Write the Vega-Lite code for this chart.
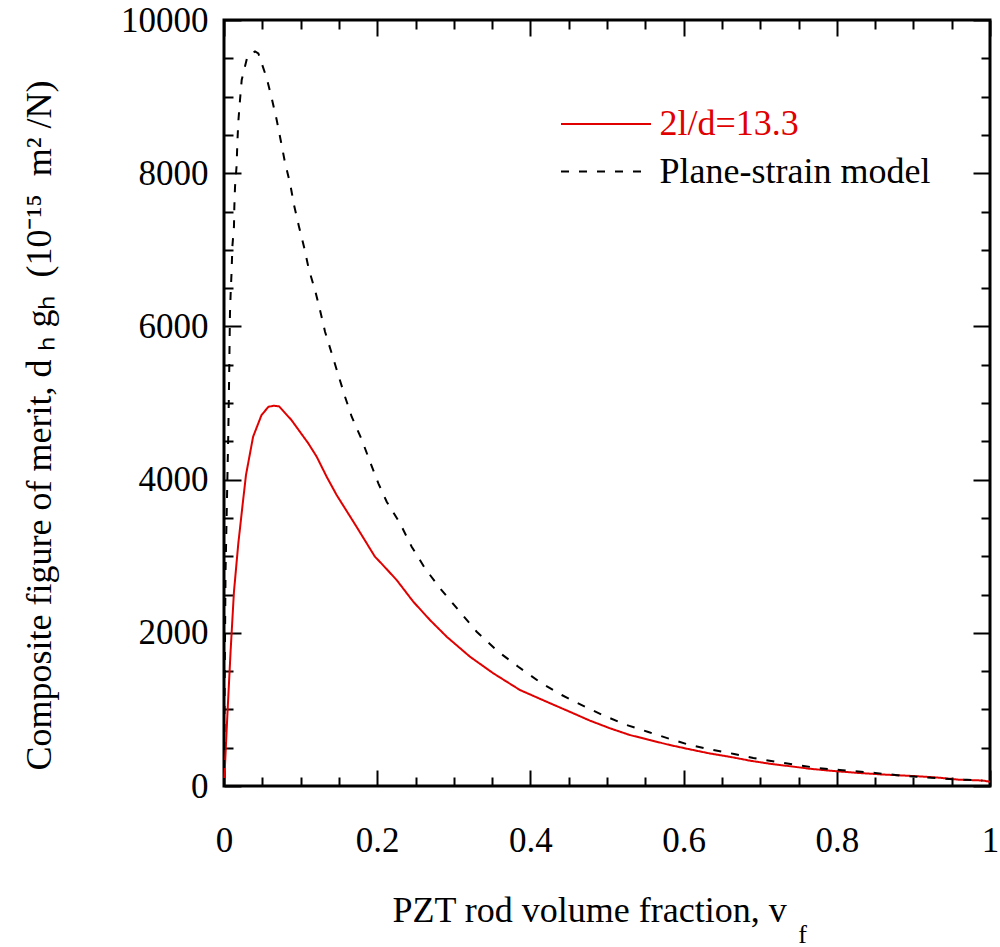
{
  "$schema": "https://vega.github.io/schema/vega-lite/v6.json",
  "width": 766,
  "height": 766,
  "autosize": {"type": "none"},
  "padding": {"left": 224, "top": 20, "right": 10, "bottom": 161},
  "config": {
    "font": "Liberation Serif",
    "view": {"stroke": "black", "strokeWidth": 3},
    "axis": {
      "grid": false,
      "domain": false,
      "ticks": true,
      "tickColor": "black",
      "tickWidth": 2,
      "tickOpacity": 1,
      "zindex": 2,
      "labelColor": "black",
      "titleColor": "black",
      "labelFontSize": 35,
      "titleFontSize": 36,
      "titleFontWeight": "normal",
      "labelFont": "Liberation Serif",
      "titleFont": "Liberation Serif",
      "labelFlush": false
    }
  },
  "data": {
    "values": [
      {"series": "2l/d=13.3", "vf": 0, "fom": 0},
      {"series": "2l/d=13.3", "vf": 0.0043, "fom": 905},
      {"series": "2l/d=13.3", "vf": 0.0087, "fom": 1775},
      {"series": "2l/d=13.3", "vf": 0.013, "fom": 2537},
      {"series": "2l/d=13.3", "vf": 0.0187, "fom": 3168},
      {"series": "2l/d=13.3", "vf": 0.024, "fom": 3646},
      {"series": "2l/d=13.3", "vf": 0.0287, "fom": 4060},
      {"series": "2l/d=13.3", "vf": 0.038, "fom": 4560},
      {"series": "2l/d=13.3", "vf": 0.049, "fom": 4843},
      {"series": "2l/d=13.3", "vf": 0.058, "fom": 4950},
      {"series": "2l/d=13.3", "vf": 0.065, "fom": 4965},
      {"series": "2l/d=13.3", "vf": 0.072, "fom": 4955},
      {"series": "2l/d=13.3", "vf": 0.088, "fom": 4778},
      {"series": "2l/d=13.3", "vf": 0.11, "fom": 4474},
      {"series": "2l/d=13.3", "vf": 0.121, "fom": 4299},
      {"series": "2l/d=13.3", "vf": 0.134, "fom": 4038},
      {"series": "2l/d=13.3", "vf": 0.147, "fom": 3799},
      {"series": "2l/d=13.3", "vf": 0.173, "fom": 3385},
      {"series": "2l/d=13.3", "vf": 0.197, "fom": 2994},
      {"series": "2l/d=13.3", "vf": 0.206, "fom": 2900},
      {"series": "2l/d=13.3", "vf": 0.2254, "fom": 2689},
      {"series": "2l/d=13.3", "vf": 0.2471, "fom": 2406},
      {"series": "2l/d=13.3", "vf": 0.2689, "fom": 2167},
      {"series": "2l/d=13.3", "vf": 0.2907, "fom": 1949},
      {"series": "2l/d=13.3", "vf": 0.3211, "fom": 1688},
      {"series": "2l/d=13.3", "vf": 0.3516, "fom": 1471},
      {"series": "2l/d=13.3", "vf": 0.3864, "fom": 1253},
      {"series": "2l/d=13.3", "vf": 0.4212, "fom": 1100},
      {"series": "2l/d=13.3", "vf": 0.456, "fom": 949},
      {"series": "2l/d=13.3", "vf": 0.4778, "fom": 853},
      {"series": "2l/d=13.3", "vf": 0.504, "fom": 753},
      {"series": "2l/d=13.3", "vf": 0.53, "fom": 665},
      {"series": "2l/d=13.3", "vf": 0.556, "fom": 600},
      {"series": "2l/d=13.3", "vf": 0.582, "fom": 535},
      {"series": "2l/d=13.3", "vf": 0.608, "fom": 479},
      {"series": "2l/d=13.3", "vf": 0.634, "fom": 425},
      {"series": "2l/d=13.3", "vf": 0.661, "fom": 380},
      {"series": "2l/d=13.3", "vf": 0.687, "fom": 330},
      {"series": "2l/d=13.3", "vf": 0.713, "fom": 290},
      {"series": "2l/d=13.3", "vf": 0.739, "fom": 258},
      {"series": "2l/d=13.3", "vf": 0.765, "fom": 225},
      {"series": "2l/d=13.3", "vf": 0.791, "fom": 200},
      {"series": "2l/d=13.3", "vf": 0.826, "fom": 172},
      {"series": "2l/d=13.3", "vf": 0.86, "fom": 150},
      {"series": "2l/d=13.3", "vf": 0.9, "fom": 130},
      {"series": "2l/d=13.3", "vf": 0.93, "fom": 112},
      {"series": "2l/d=13.3", "vf": 0.96, "fom": 82},
      {"series": "2l/d=13.3", "vf": 0.99, "fom": 72},
      {"series": "2l/d=13.3", "vf": 1.0, "fom": 55},
      {"series": "Plane-strain model", "vf": 0, "fom": 0},
      {"series": "Plane-strain model", "vf": 0.001, "fom": 1500},
      {"series": "Plane-strain model", "vf": 0.002, "fom": 2800},
      {"series": "Plane-strain model", "vf": 0.004, "fom": 3800},
      {"series": "Plane-strain model", "vf": 0.0056, "fom": 4600},
      {"series": "Plane-strain model", "vf": 0.0068, "fom": 5400},
      {"series": "Plane-strain model", "vf": 0.0078, "fom": 6175},
      {"series": "Plane-strain model", "vf": 0.0087, "fom": 6432},
      {"series": "Plane-strain model", "vf": 0.01, "fom": 6736},
      {"series": "Plane-strain model", "vf": 0.0109, "fom": 7041},
      {"series": "Plane-strain model", "vf": 0.013, "fom": 7302},
      {"series": "Plane-strain model", "vf": 0.0135, "fom": 7563},
      {"series": "Plane-strain model", "vf": 0.0144, "fom": 7824},
      {"series": "Plane-strain model", "vf": 0.0165, "fom": 8107},
      {"series": "Plane-strain model", "vf": 0.0174, "fom": 8390},
      {"series": "Plane-strain model", "vf": 0.0187, "fom": 8673},
      {"series": "Plane-strain model", "vf": 0.0209, "fom": 8956},
      {"series": "Plane-strain model", "vf": 0.0231, "fom": 9217},
      {"series": "Plane-strain model", "vf": 0.0305, "fom": 9521},
      {"series": "Plane-strain model", "vf": 0.0405, "fom": 9590},
      {"series": "Plane-strain model", "vf": 0.0448, "fom": 9565},
      {"series": "Plane-strain model", "vf": 0.0557, "fom": 9243},
      {"series": "Plane-strain model", "vf": 0.0622, "fom": 8982},
      {"series": "Plane-strain model", "vf": 0.0688, "fom": 8695},
      {"series": "Plane-strain model", "vf": 0.0744, "fom": 8411},
      {"series": "Plane-strain model", "vf": 0.0796, "fom": 8140},
      {"series": "Plane-strain model", "vf": 0.0862, "fom": 7870},
      {"series": "Plane-strain model", "vf": 0.0914, "fom": 7585},
      {"series": "Plane-strain model", "vf": 0.0979, "fom": 7302},
      {"series": "Plane-strain model", "vf": 0.1044, "fom": 7041},
      {"series": "Plane-strain model", "vf": 0.111, "fom": 6736},
      {"series": "Plane-strain model", "vf": 0.1188, "fom": 6475},
      {"series": "Plane-strain model", "vf": 0.1253, "fom": 6214},
      {"series": "Plane-strain model", "vf": 0.1319, "fom": 5931},
      {"series": "Plane-strain model", "vf": 0.1406, "fom": 5649},
      {"series": "Plane-strain model", "vf": 0.1492, "fom": 5366},
      {"series": "Plane-strain model", "vf": 0.158, "fom": 5082},
      {"series": "Plane-strain model", "vf": 0.1667, "fom": 4821},
      {"series": "Plane-strain model", "vf": 0.18, "fom": 4517},
      {"series": "Plane-strain model", "vf": 0.1906, "fom": 4234},
      {"series": "Plane-strain model", "vf": 0.2015, "fom": 3951},
      {"series": "Plane-strain model", "vf": 0.2124, "fom": 3712},
      {"series": "Plane-strain model", "vf": 0.2298, "fom": 3429},
      {"series": "Plane-strain model", "vf": 0.245, "fom": 3124},
      {"series": "Plane-strain model", "vf": 0.2624, "fom": 2842},
      {"series": "Plane-strain model", "vf": 0.282, "fom": 2581},
      {"series": "Plane-strain model", "vf": 0.3059, "fom": 2298},
      {"series": "Plane-strain model", "vf": 0.3299, "fom": 2014},
      {"series": "Plane-strain model", "vf": 0.3581, "fom": 1753},
      {"series": "Plane-strain model", "vf": 0.3842, "fom": 1557},
      {"series": "Plane-strain model", "vf": 0.4147, "fom": 1340},
      {"series": "Plane-strain model", "vf": 0.4409, "fom": 1188},
      {"series": "Plane-strain model", "vf": 0.4713, "fom": 1035},
      {"series": "Plane-strain model", "vf": 0.497, "fom": 914},
      {"series": "Plane-strain model", "vf": 0.5257, "fom": 796},
      {"series": "Plane-strain model", "vf": 0.554, "fom": 705},
      {"series": "Plane-strain model", "vf": 0.581, "fom": 618},
      {"series": "Plane-strain model", "vf": 0.608, "fom": 535},
      {"series": "Plane-strain model", "vf": 0.634, "fom": 479},
      {"series": "Plane-strain model", "vf": 0.666, "fom": 418},
      {"series": "Plane-strain model", "vf": 0.691, "fom": 366},
      {"series": "Plane-strain model", "vf": 0.72, "fom": 317},
      {"series": "Plane-strain model", "vf": 0.748, "fom": 274},
      {"series": "Plane-strain model", "vf": 0.775, "fom": 235},
      {"series": "Plane-strain model", "vf": 0.804, "fom": 209},
      {"series": "Plane-strain model", "vf": 0.85, "fom": 170},
      {"series": "Plane-strain model", "vf": 0.89, "fom": 130},
      {"series": "Plane-strain model", "vf": 0.94, "fom": 95},
      {"series": "Plane-strain model", "vf": 0.97, "fom": 80},
      {"series": "Plane-strain model", "vf": 0.99, "fom": 70}
    ]
  },
  "layer": [
    {
      "mark": {"type": "line", "strokeWidth": 2},
      "encoding": {
        "x": {
          "field": "vf", "type": "quantitative",
          "scale": {"domain": [0, 1], "nice": false, "zero": false},
          "axis": {
            "orient": "bottom",
            "offset": -16,
            "values": [0, 0.2, 0.4, 0.6, 0.8, 1],
            "format": "~g",
            "ticks": true,
            "tickColor": "black",
            "tickWidth": 2,
            "tickSize": 16,
            "labelPadding": 37,
            "title": "PZT rod volume fraction, v",
            "titleAlign": "center",
            "titleX": 365,
            "titleY": 151,
            "titleBaseline": "alphabetic"
          }
        },
        "y": {
          "field": "fom", "type": "quantitative",
          "scale": {"domain": [0, 10000], "nice": false, "zero": false},
          "axis": {
            "orient": "left",
            "offset": -17,
            "values": [0, 2000, 4000, 6000, 8000, 10000],
            "format": "d",
            "ticks": true,
            "tickColor": "black",
            "tickWidth": 2,
            "tickSize": 17,
            "labelPadding": 16,
            "title": "Composite figure of merit, d\u00a0ₕ\u00a0gₕ\u00a0\u00a0(10⁻¹⁵\u00a0\u00a0m²\u00a0/N)",
            "titleAngle": -90,
            "titleAlign": "left",
            "titleX": -191,
            "titleY": 750,
            "titleBaseline": "alphabetic"
          }
        },
        "color": {
          "field": "series", "type": "nominal",
          "scale": {"domain": ["2l/d=13.3", "Plane-strain model"], "range": ["#e00000", "black"]},
          "legend": {
            "orient": "none", "legendX": 336, "legendY": 84.5, "title": null,
            "symbolType": "M-2.432,0H2.432", "symbolSize": 1369, "symbolStrokeWidth": 2, "symbolOffset": 26.5,
            "labelFontSize": 36, "labelFont": "Liberation Serif", "labelOffset": 34, "labelLimit": 400,
            "rowPadding": 9.5, "padding": 0,
            "encode": {"labels": {"update": {"fill": {"signal": "datum.value === '2l/d=13.3' ? '#e00000' : 'black'"}}}}
          }
        },
        "strokeDash": {
          "field": "series", "type": "nominal",
          "scale": {"domain": ["2l/d=13.3", "Plane-strain model"], "range": [[1, 0], [8, 10]]},
          "legend": {
            "orient": "none", "legendX": 336, "legendY": 84.5, "title": null,
            "symbolType": "M-2.432,0H2.432", "symbolSize": 1369, "symbolStrokeWidth": 2, "symbolOffset": 26.5,
            "labelFontSize": 36, "labelFont": "Liberation Serif", "labelOffset": 34, "labelLimit": 400,
            "rowPadding": 9.5, "padding": 0,
            "encode": {"labels": {"update": {"fill": {"signal": "datum.value === '2l/d=13.3' ? '#e00000' : 'black'"}}}}
          }
        }
      }
    },
    {
      "mark": {"type": "line", "opacity": 0},
      "encoding": {
        "x": {
          "field": "vf", "type": "quantitative",
          "scale": {"domain": [0, 1], "nice": false, "zero": false},
          "axis": {
            "orient": "bottom", "offset": -9,
            "values": [0.05, 0.1, 0.15, 0.25, 0.3, 0.35, 0.45, 0.5, 0.55, 0.65, 0.7, 0.75, 0.85, 0.9, 0.95],
            "ticks": true, "tickColor": "black", "tickWidth": 2, "tickSize": 9, "labels": false,
            "title": "f", "titleFontSize": 26, "titleAlign": "center", "titleX": 578, "titleY": 165, "titleBaseline": "alphabetic"
          }
        },
        "y": {
          "field": "fom", "type": "quantitative",
          "scale": {"domain": [0, 10000], "nice": false, "zero": false},
          "axis": {"orient": "left", "offset": -9, "values": [500, 1000, 1500, 2500, 3000, 3500, 4500, 5000, 5500, 6500, 7000, 7500, 8500, 9000, 9500], "ticks": true, "tickColor": "black", "tickWidth": 2, "tickSize": 9, "labels": false, "title": null}
        },
        "detail": {"field": "series"}
      }
    },
    {
      "mark": {"type": "line", "opacity": 0},
      "encoding": {
        "x": {
          "field": "vf", "type": "quantitative",
          "scale": {"domain": [0, 1], "nice": false, "zero": false},
          "axis": {"orient": "top", "offset": -16, "values": [0, 0.2, 0.4, 0.6, 0.8, 1], "ticks": true, "tickColor": "black", "tickWidth": 2, "tickSize": 16, "labels": false, "title": null}
        },
        "y": {
          "field": "fom", "type": "quantitative",
          "scale": {"domain": [0, 10000], "nice": false, "zero": false},
          "axis": {"orient": "right", "offset": -17, "values": [0, 2000, 4000, 6000, 8000, 10000], "ticks": true, "tickColor": "black", "tickWidth": 2, "tickSize": 17, "labels": false, "title": null}
        },
        "detail": {"field": "series"}
      }
    },
    {
      "mark": {"type": "line", "opacity": 0},
      "encoding": {
        "x": {
          "field": "vf", "type": "quantitative",
          "scale": {"domain": [0, 1], "nice": false, "zero": false},
          "axis": {"orient": "top", "offset": -9, "values": [0.05, 0.1, 0.15, 0.25, 0.3, 0.35, 0.45, 0.5, 0.55, 0.65, 0.7, 0.75, 0.85, 0.9, 0.95], "ticks": true, "tickColor": "black", "tickWidth": 2, "tickSize": 9, "labels": false, "title": null}
        },
        "y": {
          "field": "fom", "type": "quantitative",
          "scale": {"domain": [0, 10000], "nice": false, "zero": false},
          "axis": {"orient": "right", "offset": -9, "values": [500, 1000, 1500, 2500, 3000, 3500, 4500, 5000, 5500, 6500, 7000, 7500, 8500, 9000, 9500], "ticks": true, "tickColor": "black", "tickWidth": 2, "tickSize": 9, "labels": false, "title": null}
        },
        "detail": {"field": "series"}
      }
    }
  ],
  "resolve": {"axis": {"x": "independent", "y": "independent"}}
}
